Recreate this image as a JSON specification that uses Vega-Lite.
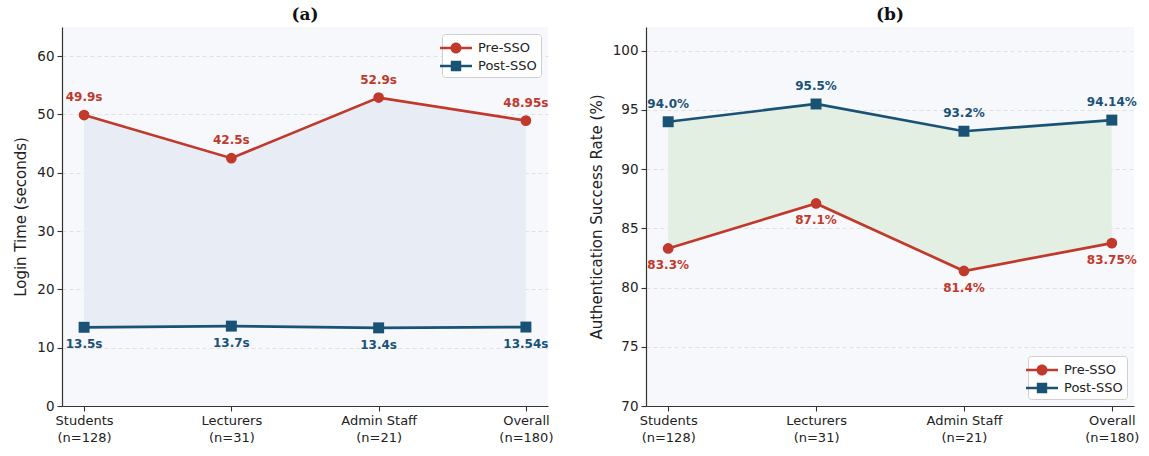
{
  "$schema": "https://vega.github.io/schema/vega-lite/v6.json",
  "background": "white",
  "padding": {"left": 13, "top": 6, "right": 8, "bottom": 2},
  "datasets": {
    "login": [
      {"group": "Students\n(n=128)", "phase": "Pre-SSO", "value": 49.9, "label": "49.9s"},
      {"group": "Lecturers\n(n=31)", "phase": "Pre-SSO", "value": 42.5, "label": "42.5s"},
      {"group": "Admin Staff\n(n=21)", "phase": "Pre-SSO", "value": 52.9, "label": "52.9s"},
      {"group": "Overall\n(n=180)", "phase": "Pre-SSO", "value": 48.95, "label": "48.95s"},
      {"group": "Students\n(n=128)", "phase": "Post-SSO", "value": 13.5, "label": "13.5s"},
      {"group": "Lecturers\n(n=31)", "phase": "Post-SSO", "value": 13.7, "label": "13.7s"},
      {"group": "Admin Staff\n(n=21)", "phase": "Post-SSO", "value": 13.4, "label": "13.4s"},
      {"group": "Overall\n(n=180)", "phase": "Post-SSO", "value": 13.54, "label": "13.54s"}
    ],
    "auth": [
      {"group": "Students\n(n=128)", "phase": "Pre-SSO", "value": 83.3, "label": "83.3%"},
      {"group": "Lecturers\n(n=31)", "phase": "Pre-SSO", "value": 87.1, "label": "87.1%"},
      {"group": "Admin Staff\n(n=21)", "phase": "Pre-SSO", "value": 81.4, "label": "81.4%"},
      {"group": "Overall\n(n=180)", "phase": "Pre-SSO", "value": 83.75, "label": "83.75%"},
      {"group": "Students\n(n=128)", "phase": "Post-SSO", "value": 94.0, "label": "94.0%"},
      {"group": "Lecturers\n(n=31)", "phase": "Post-SSO", "value": 95.5, "label": "95.5%"},
      {"group": "Admin Staff\n(n=21)", "phase": "Post-SSO", "value": 93.2, "label": "93.2%"},
      {"group": "Overall\n(n=180)", "phase": "Post-SSO", "value": 94.14, "label": "94.14%"}
    ]
  },
  "config": {
    "font": "DejaVu Sans",
    "view": {"fill": "#f7f8fb", "stroke": null},
    "axis": {
      "labelFont": "DejaVu Sans", "labelFontSize": 13.5, "labelColor": "#222",
      "titleFont": "DejaVu Sans", "titleFontSize": 15, "titleFontWeight": "normal", "titleColor": "#222",
      "domainColor": "#333", "domainWidth": 1.2, "tickColor": "#333", "tickSize": 5, "tickWidth": 1.1,
      "gridColor": "#dadada", "gridDash": [4, 3], "gridWidth": 0.8, "labelPadding": 3
    },
    "axisX": {"grid": false, "labelAngle": 0, "labelFontSize": 13, "labelLineHeight": 17, "labelPadding": 3},
    "title": {"font": "DejaVu Serif", "fontSize": 17, "fontWeight": "bold", "color": "#111", "offset": 3},
    "legend": {
      "fillColor": "white", "strokeColor": "#cfcfcf", "cornerRadius": 3,
      "padding": 4, "offset": 7, "labelFont": "DejaVu Sans", "labelFontSize": 13, "labelColor": "#222",
      "symbolSize": 400, "symbolOpacity": 1, "symbolStrokeWidth": 0, "labelOffset": 12, "rowPadding": 1
    },
    "concat": {"spacing": 36}
  },
  "resolve": {
    "scale": {"color": "independent", "shape": "independent"},
    "legend": {"color": "independent", "shape": "independent"}
  },
  "hconcat": [
    {
      "title": "(a)",
      "width": 486,
      "height": 379,
      "data": {"name": "login"},
      "encoding": {
        "x": {
          "field": "group", "type": "ordinal",
          "sort": ["Students\n(n=128)", "Lecturers\n(n=31)", "Admin Staff\n(n=21)", "Overall\n(n=180)"],
          "scale": {"type": "point", "padding": 0.15},
          "axis": {"title": null, "labelExpr": "split(datum.label, '\\n')"}
        },
        "y": {
          "field": "value", "type": "quantitative",
          "scale": {"domain": [0, 65], "nice": false},
          "axis": {"title": "Login Time (seconds)", "values": [0, 10, 20, 30, 40, 50, 60], "titlePadding": 8}
        }
      },
      "layer": [
        {
          "transform": [{"pivot": "phase", "value": "value", "groupby": ["group"]}],
          "mark": {"type": "area", "color": "#e7ecf5"},
          "encoding": {
            "y": {
              "field": "Pre-SSO", "type": "quantitative",
              "scale": {"domain": [0, 65], "nice": false},
              "axis": {"title": "Login Time (seconds)", "values": [0, 10, 20, 30, 40, 50, 60], "titlePadding": 8}
            },
            "y2": {"field": "Post-SSO"}
          }
        },
        {
          "transform": [{"filter": "datum.phase === 'Pre-SSO'"}],
          "mark": {"type": "line", "strokeWidth": 2.7, "color": "#c0392b"}
        },
        {
          "transform": [{"filter": "datum.phase === 'Post-SSO'"}],
          "mark": {"type": "line", "strokeWidth": 2.7, "color": "#1a5276"}
        },
        {
          "transform": [{"filter": "datum.phase === 'Pre-SSO'"}],
          "mark": {"type": "point", "shape": "circle", "filled": true, "size": 115, "opacity": 1, "color": "#c0392b"}
        },
        {
          "transform": [{"filter": "datum.phase === 'Post-SSO'"}],
          "mark": {"type": "point", "shape": "square", "filled": true, "size": 120, "opacity": 1, "color": "#1a5276"}
        },
        {
          "transform": [{"filter": "datum.phase === 'Pre-SSO'"}],
          "mark": {"type": "text", "dy": -18, "fontSize": 12, "fontWeight": "bold", "color": "#c0392b"},
          "encoding": {"text": {"field": "label"}}
        },
        {
          "transform": [{"filter": "datum.phase === 'Post-SSO'"}],
          "mark": {"type": "text", "dy": 17, "fontSize": 12, "fontWeight": "bold", "color": "#1a5276"},
          "encoding": {"text": {"field": "label"}}
        },
        {
          "mark": {"type": "point", "filled": true, "opacity": 0},
          "encoding": {
            "color": {
              "field": "phase", "type": "nominal",
              "scale": {"domain": ["Pre-SSO", "Post-SSO"], "range": ["#c0392b", "#1a5276"]},
              "legend": {"orient": "top-right", "title": null}
            },
            "shape": {
              "field": "phase", "type": "nominal",
              "scale": {
                "domain": ["Pre-SSO", "Post-SSO"],
                "range": [
                  "M-1.6,-0.12H1.6V0.12H-1.6Z M0.55,0A0.55,0.55 0 1,1 -0.55,0A0.55,0.55 0 1,1 0.55,0Z",
                  "M-1.6,-0.12H1.6V0.12H-1.6Z M-0.52,-0.52H0.52V0.52H-0.52Z"
                ]
              },
              "legend": {"orient": "top-right", "title": null}
            }
          }
        }
      ]
    },
    {
      "title": "(b)",
      "width": 488,
      "height": 379,
      "data": {"name": "auth"},
      "encoding": {
        "x": {
          "field": "group", "type": "ordinal",
          "sort": ["Students\n(n=128)", "Lecturers\n(n=31)", "Admin Staff\n(n=21)", "Overall\n(n=180)"],
          "scale": {"type": "point", "padding": 0.15},
          "axis": {"title": null, "labelExpr": "split(datum.label, '\\n')"}
        },
        "y": {
          "field": "value", "type": "quantitative",
          "scale": {"domain": [70, 102], "nice": false, "zero": false},
          "axis": {"title": "Authentication Success Rate (%)", "values": [70, 75, 80, 85, 90, 95, 100], "titlePadding": 8}
        }
      },
      "layer": [
        {
          "transform": [{"pivot": "phase", "value": "value", "groupby": ["group"]}],
          "mark": {"type": "area", "color": "#e3efe3"},
          "encoding": {
            "y": {
              "field": "Post-SSO", "type": "quantitative",
              "scale": {"domain": [70, 102], "nice": false, "zero": false},
              "axis": {"title": "Authentication Success Rate (%)", "values": [70, 75, 80, 85, 90, 95, 100], "titlePadding": 8}
            },
            "y2": {"field": "Pre-SSO"}
          }
        },
        {
          "transform": [{"filter": "datum.phase === 'Pre-SSO'"}],
          "mark": {"type": "line", "strokeWidth": 2.7, "color": "#c0392b"}
        },
        {
          "transform": [{"filter": "datum.phase === 'Post-SSO'"}],
          "mark": {"type": "line", "strokeWidth": 2.7, "color": "#1a5276"}
        },
        {
          "transform": [{"filter": "datum.phase === 'Pre-SSO'"}],
          "mark": {"type": "point", "shape": "circle", "filled": true, "size": 115, "opacity": 1, "color": "#c0392b"}
        },
        {
          "transform": [{"filter": "datum.phase === 'Post-SSO'"}],
          "mark": {"type": "point", "shape": "square", "filled": true, "size": 120, "opacity": 1, "color": "#1a5276"}
        },
        {
          "transform": [{"filter": "datum.phase === 'Post-SSO'"}],
          "mark": {"type": "text", "dy": -18, "fontSize": 12, "fontWeight": "bold", "color": "#1a5276"},
          "encoding": {"text": {"field": "label"}}
        },
        {
          "transform": [{"filter": "datum.phase === 'Pre-SSO'"}],
          "mark": {"type": "text", "dy": 17, "fontSize": 12, "fontWeight": "bold", "color": "#c0392b"},
          "encoding": {"text": {"field": "label"}}
        },
        {
          "mark": {"type": "point", "filled": true, "opacity": 0},
          "encoding": {
            "color": {
              "field": "phase", "type": "nominal",
              "scale": {"domain": ["Pre-SSO", "Post-SSO"], "range": ["#c0392b", "#1a5276"]},
              "legend": {"orient": "bottom-right", "title": null}
            },
            "shape": {
              "field": "phase", "type": "nominal",
              "scale": {
                "domain": ["Pre-SSO", "Post-SSO"],
                "range": [
                  "M-1.6,-0.12H1.6V0.12H-1.6Z M0.55,0A0.55,0.55 0 1,1 -0.55,0A0.55,0.55 0 1,1 0.55,0Z",
                  "M-1.6,-0.12H1.6V0.12H-1.6Z M-0.52,-0.52H0.52V0.52H-0.52Z"
                ]
              },
              "legend": {"orient": "bottom-right", "title": null}
            }
          }
        }
      ]
    }
  ]
}
